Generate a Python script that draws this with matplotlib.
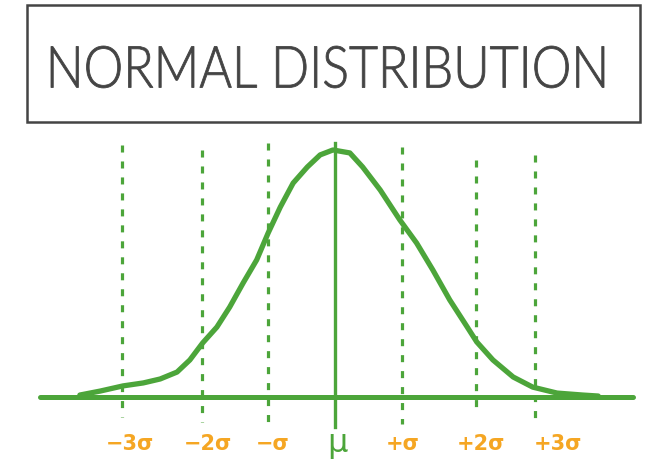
import matplotlib
matplotlib.use("Agg")
import matplotlib.pyplot as plt
from matplotlib import font_manager
from matplotlib.font_manager import FontProperties
from matplotlib.patches import Rectangle, PathPatch
from matplotlib.textpath import TextPath
from matplotlib.transforms import Affine2D

green = "#4ca53a"
orange = "#f5a623"
ink = "#444444"

title = "NORMAL DISTRIBUTION"

# curve: x in sigma units, y relative to the peak
curve_x = [-3.78, -3.48, -3.14, -2.84, -2.59, -2.34, -2.15, -1.96, -1.75, -1.56,
           -1.36, -1.16, -0.99, -0.81, -0.62, -0.41, -0.22, -0.03, 0.22, 0.41,
           0.67, 0.96, 1.21, 1.45, 1.70, 1.96, 2.10, 2.34, 2.64, 2.93, 3.29, 3.67, 3.90]
curve_y = [0.008, 0.024, 0.045, 0.057, 0.073, 0.101, 0.150, 0.219, 0.283, 0.364,
           0.462, 0.555, 0.664, 0.769, 0.866, 0.931, 0.980, 1.0, 0.988, 0.931,
           0.838, 0.717, 0.623, 0.514, 0.393, 0.283, 0.223, 0.150, 0.081, 0.040, 0.016, 0.008, 0.004]

# hand drawn sigma guides (where they actually sit in the sketch)
sigma_labels = ["\u22123\u03c3", "\u22122\u03c3", "\u2212\u03c3", "+\u03c3", "+2\u03c3", "+3\u03c3"]
sigma_pos = [-3.16, -1.97, -0.99, 1.0, 2.09, 2.96]
guide_top = [1.02, 1.0, 1.03, 1.01, 0.96, 0.98]
guide_bottom = [-0.08, -0.10, -0.11, -0.11, -0.07, -0.11]
label_pos = [-3.04, -1.88, -0.92, 1.0, 2.16, 3.30]


def thin_font():
    # light face (closest to 300) so the title strokes look like a felt pen
    best = None
    for name in ["Lato", "Roboto", "Open Sans", "Inter", "Noto Sans", "DejaVu Sans"]:
        for f in font_manager.fontManager.ttflist:
            w = f.weight if isinstance(f.weight, int) else 400
            if f.name == name and 200 <= w <= 350 and f.style == "normal":
                if best is None or abs(w - 300) < abs(best[0] - 300):
                    best = (w, f.fname)
        if best:
            return FontProperties(fname=best[1])
    return FontProperties(family="DejaVu Sans")


fig = plt.figure(figsize=(6.45, 4.61), dpi=100)
ax = fig.add_axes([0, 0, 1, 1])
ax.set_xlim(-4.963, 4.593)
ax.set_ylim(-0.259, 1.607)
ax.axis("off")

# title box
fig.patches.append(Rectangle((0.042, 0.735), 0.950, 0.254, transform=fig.transFigure,
                             fill=False, edgecolor=ink, linewidth=1.8))

# title squeezed into the box like the hand lettering (pixels, origin bottom-left)
tp = TextPath((0, 0), title, size=100, prop=thin_font())
ext = tp.get_extents()
H = fig.get_figheight() * fig.dpi
x0, x1, ytop, ybot = 51, 604, 46, 88
sx = (x1 - x0) / ext.width
sy = (ybot - ytop) / ext.height
tr = Affine2D().translate(-ext.x0, -ext.y0).scale(sx, sy).translate(x0, H - ybot)
fig.add_artist(PathPatch(tp, transform=tr, facecolor=ink, edgecolor=ink,
                         linewidth=0.6))

# baseline and mean line
ax.plot([-4.37, 4.42], [0, 0], color=green, lw=3.6, solid_capstyle="round")
ax.plot([0, 0], [1.03, -0.12], color=green, lw=2.4)

for x, top, bot in zip(sigma_pos, guide_top, guide_bottom):
    ax.plot([x, x], [top, bot], color=green, lw=2.3, linestyle=(0, (2.2, 2.8)))

ax.plot(curve_x, curve_y, color=green, lw=3.8, solid_joinstyle="round",
        solid_capstyle="round")

for lab, x in zip(sigma_labels, label_pos):
    ax.text(x, -0.19, lab, ha="center", va="center", color=orange,
            fontsize=15, fontweight="bold")
ax.text(0.03, -0.19, "\u03bc", ha="center", va="center", color=green, fontsize=23)

fig.savefig("out.png", dpi=100)
